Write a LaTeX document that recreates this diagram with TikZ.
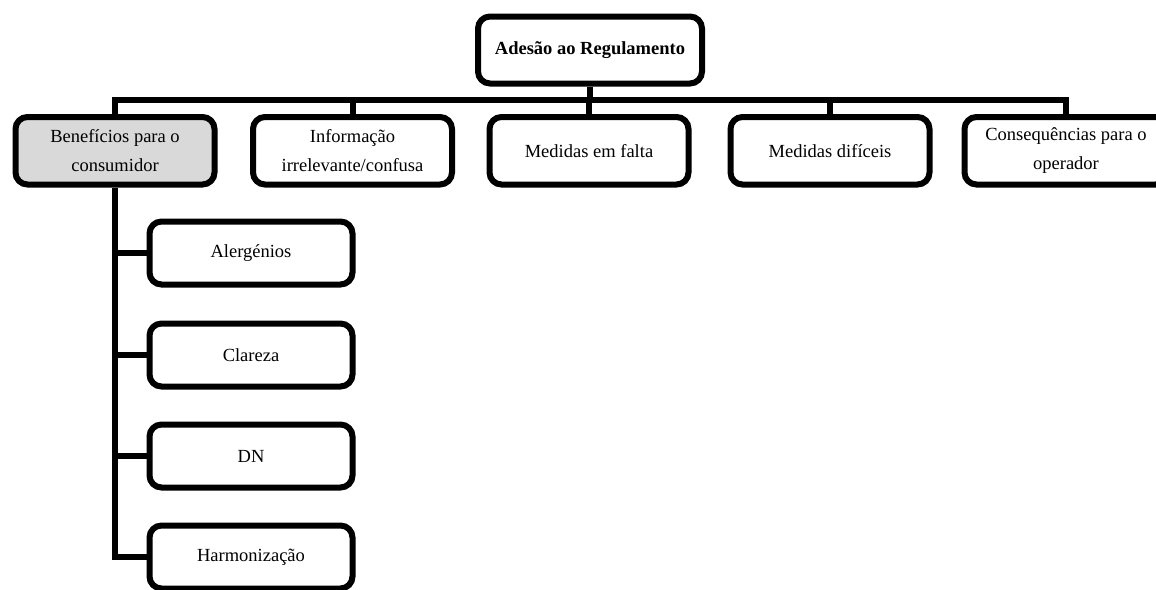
\documentclass[tikz,border=0pt]{standalone}
\usepackage{fontspec}
\setmainfont{Liberation Serif}
\definecolor{boxgray}{RGB}{217,217,217}
\begin{document}
\begin{tikzpicture}[x=1pt,y=-1pt,
  every node/.style={font=\fontsize{18.5}{29}\selectfont},
  topbox/.style={draw, line width=6pt, rounded corners=12pt, fill=white,
    minimum width=224pt, minimum height=67pt, inner sep=0pt, align=center,
    font=\fontsize{18.5}{29}\selectfont\bfseries},
  rowbox/.style={draw, line width=6pt, rounded corners=12pt, fill=white,
    minimum width=199pt, minimum height=67.5pt, inner sep=0pt, align=center},
  colbox/.style={draw, line width=6pt, rounded corners=12pt, fill=white,
    minimum width=203pt, minimum height=63pt, inner sep=0pt, align=center},
  link/.style={line width=6pt}]
\useasboundingbox (0,0) rectangle (1156,589);

% height of the horizontal bus line
\coordinate (bus) at (0,100);

% top of the hierarchy
\node[topbox] (top) at (590,50) {Adesão ao Regulamento};

% first level
\node[rowbox, fill=boxgray] (b1) at (115,150.75) {Benefícios para o\\consumidor};
\node[rowbox] (b2) at (352.5,150.75) {Informação\\irrelevante/confusa};
\node[rowbox] (b3) at (589,150.75) {Medidas em falta};
\node[rowbox] (b4) at (830,150.75) {Medidas difíceis};
\node[rowbox, minimum width=203pt] (b5) at (1066,150.75) {Consequências para o\\operador};

% second level under the first box
\node[colbox] (c1) at (251,253) {Alergénios};
\node[colbox] (c2) at (251,355) {Clareza};
\node[colbox] (c3) at (251,456) {DN};
\node[colbox] (c4) at (251,557) {Harmonização};

% connectors
\draw[link] (top.south) -- (top.south |- bus);
\draw[link] (b1.north) -- (b1.north |- bus) -- (b5.north |- bus) -- (b5.north);
\draw[link] (b2.north) -- (b2.north |- bus);
\draw[link] (b3.north) -- (b3.north |- bus);
\draw[link] (b4.north) -- (b4.north |- bus);
\draw[link] (b1.south) -- (b1.south |- c4.west) -- (c4.west);
\draw[link] (c1.west) -- (c1.west -| b1.south);
\draw[link] (c2.west) -- (c2.west -| b1.south);
\draw[link] (c3.west) -- (c3.west -| b1.south);
\end{tikzpicture}
\end{document}
